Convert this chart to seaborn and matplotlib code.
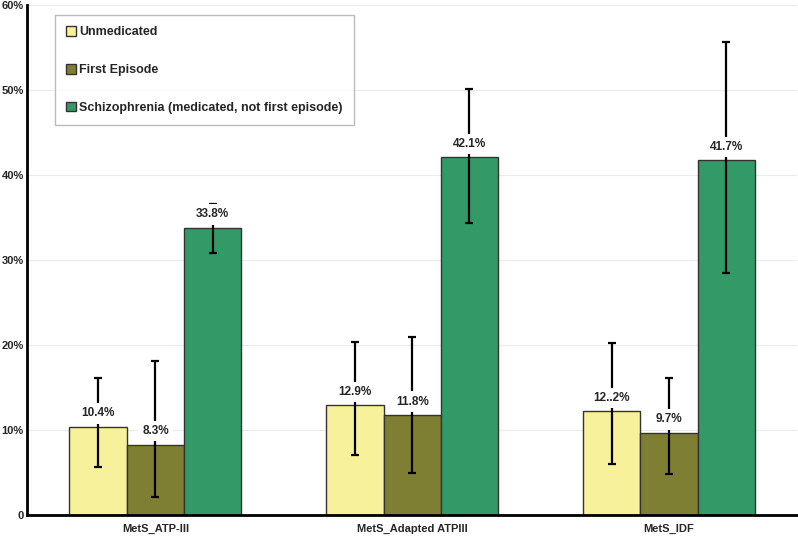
import pandas as pd
import seaborn as sns
import matplotlib.pyplot as plt
from matplotlib.patches import Patch

# Values (percent)
criteria = ['MetS_ATP-III', 'MetS_Adapted ATPIII', 'MetS_IDF']
groups = ['Unmedicated', 'First Episode', 'Schizophrenia (medicated, not first episode)']
unmedicated = [10.4, 12.9, 12.2]
first_episode = [8.3, 11.8, 9.7]
schizophrenia = [33.8, 42.1, 41.7]
# confidence interval bounds
unmed_low = [5.6, 7.1, 6.0]
unmed_high = [16.1, 20.3, 20.2]
fe_low = [2.1, 5.0, 4.8]
fe_high = [18.1, 21.0, 16.1]
scz_low = [30.8, 34.3, 28.5]
scz_high = [36.6, 50.1, 55.6]
# value labels as printed on the chart
unmed_labels = ['10.4%', '12.9%', '12..2%']
fe_labels = ['8.3%', '11.8%', '9.7%']
scz_labels = ['33.8%', '42.1%', '41.7%']

colors = ['#F8F19B', '#7F7F33', '#339966']

data = pd.DataFrame({
    'criterion': criteria * 3,
    'group': [groups[0]] * 3 + [groups[1]] * 3 + [groups[2]] * 3,
    'value': unmedicated + first_episode + schizophrenia,
})
lows = unmed_low + fe_low + scz_low
highs = unmed_high + fe_high + scz_high
labels = unmed_labels + fe_labels + scz_labels

sns.set_style('white')
plt.rcParams['font.family'] = ['Liberation Sans', 'DejaVu Sans']

fig = plt.figure(figsize=(7.98, 5.36), dpi=100)
ax = fig.add_axes([0.034, 0.039, 0.965, 0.952])

sns.barplot(data=data, x='criterion', y='value', hue='group', order=criteria,
            hue_order=groups, palette=colors, saturation=1, width=0.67, gap=0,
            edgecolor='#333333', linewidth=1.0, errorbar=None, legend=False,
            ax=ax, zorder=2)

# error bars and value labels, placed on the drawn bars
bar_containers = list(ax.containers)
i = 0
for cont in bar_containers:
    for bar in cont:
        xc = bar.get_x() + bar.get_width() / 2
        v = bar.get_height()
        ax.errorbar(xc, v, yerr=[[v - lows[i]], [highs[i] - v]], fmt='none',
                    ecolor='black', elinewidth=1.6, capsize=3, capthick=1.6, zorder=3)
        ax.text(xc, v + 1.55, labels[i], ha='center', va='center', fontsize=8.5,
                fontweight='bold', zorder=4,
                bbox=dict(facecolor='white', edgecolor='none', pad=3))
        i += 1

ax.set_xlim(-0.5, 2.5)
ax.set_ylim(0, 60)
ax.set_yticks([0, 10, 20, 30, 40, 50, 60])
ax.set_yticklabels(['0', '10%', '20%', '30%', '40%', '50%', '60%'],
                   fontsize=8, fontweight='bold')
ax.set_xticks([0, 1, 2])
ax.set_xticklabels(criteria, fontsize=8, fontweight='bold')
ax.set_xticks([0.5, 1.5, 2.5], minor=True)
ax.tick_params(axis='x', which='major', length=0, pad=6)
ax.tick_params(axis='x', which='minor', length=4, width=1.5, direction='out', color='black')
ax.tick_params(axis='y', length=1.5, width=1.5, direction='out', color='black', pad=1)
ax.set_xlabel('')
ax.set_ylabel('')
ax.yaxis.grid(True, color='#ebebeb', linewidth=0.8)
ax.set_axisbelow(True)

for s in ['top', 'right']:
    ax.spines[s].set_visible(False)
for s in ['left', 'bottom']:
    ax.spines[s].set_color('black')
    ax.spines[s].set_linewidth(2)

handles = [Patch(facecolor=c, edgecolor='#333333', linewidth=1) for c in colors]
leg = ax.legend(handles, groups, loc='upper left', bbox_to_anchor=(0.036, 0.98),
                frameon=True, fancybox=False, edgecolor='#aaaaaa',
                prop={'weight': 'bold', 'size': 9}, handlelength=0.8,
                handleheight=0.8, handletextpad=0.25, labelspacing=2.05,
                borderpad=0.9, borderaxespad=0)
leg.get_frame().set_linewidth(1)
leg.set_zorder(5)

fig.savefig('out.png', dpi=100)
